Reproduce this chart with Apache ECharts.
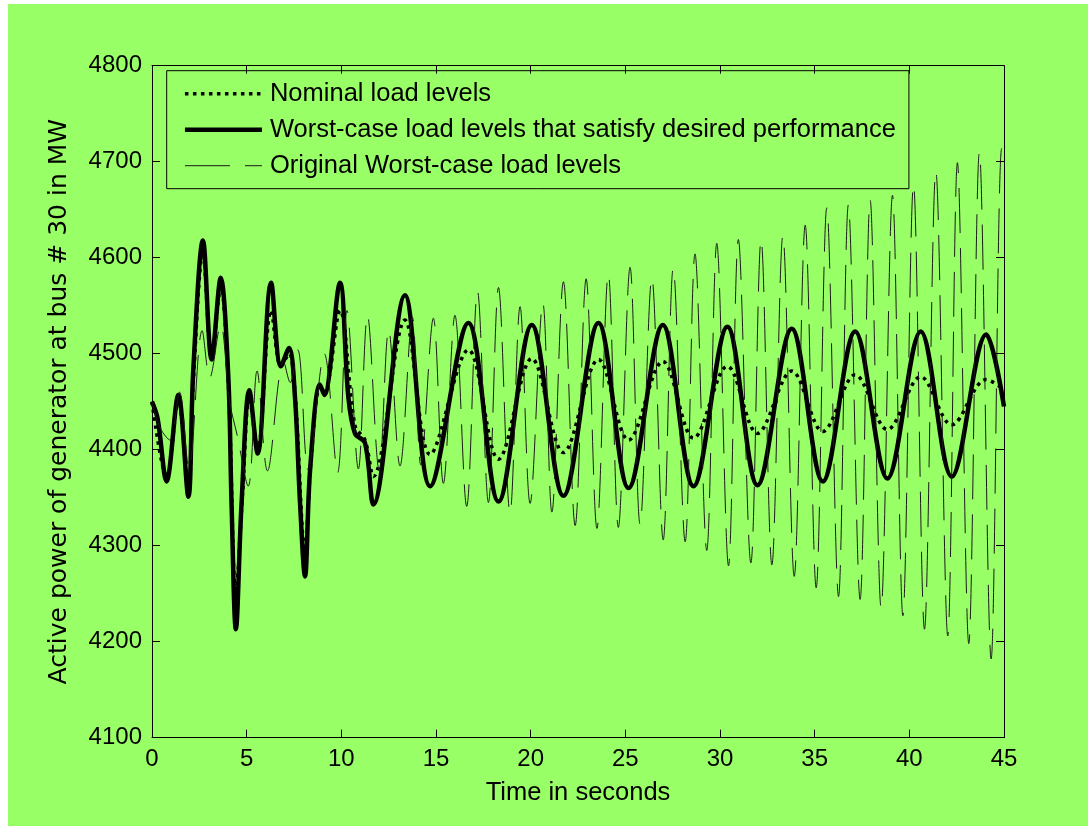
<!DOCTYPE html>
<html><head><meta charset="utf-8">
<script src="https://cdn.jsdelivr.net/npm/echarts@6/dist/echarts.min.js"></script>
<style>
html,body{margin:0;padding:0;background:#fff;width:1088px;height:826px;overflow:hidden}
#c{position:absolute;left:8px;top:4px;width:1080px;height:822px}
</style></head><body><div id="c"></div>
<script>
// ---- data (time in s, active power in MW) ----
const seriesNames = ['Nominal load levels', 'Worst-case load levels that satisfy desired performance', 'Original Worst-case load levels'];

const nominalT = [0, 0.77, 1.39, 1.92, 2.18, 2.69, 3.15, 3.63, 4.03, 4.43, 4.8, 5.14, 5.58, 6.29, 6.81, 7.24, 7.55, 8.08, 8.4, 8.87, 9.1, 9.93, 10.72, 11.25, 11.69, 13.36, 14.69, 16.71, 18.3, 20.06, 21.73, 23.58, 25.17, 26.98, 28.6, 30.39, 31.98, 33.79, 35.43, 37.14, 38.84, 40.6, 42.24, 44.06, 45];
const nominalV = [4450, 4372, 4452, 4358, 4470, 4605, 4497, 4570, 4470, 4250, 4360, 4455, 4400, 4545, 4487, 4500, 4460, 4295, 4390, 4465, 4460, 4545, 4425, 4410, 4372, 4535, 4395, 4504, 4390, 4495, 4397, 4494, 4410, 4492, 4412, 4487, 4417, 4482, 4419, 4478, 4421, 4476, 4426, 4473, 4463];

const worstT = [0, 0.3, 0.77, 1.39, 1.92, 2.18, 2.69, 3.15, 3.63, 4.03, 4.2, 4.43, 4.73, 5.14, 5.58, 6.29, 6.81, 7.24, 7.55, 7.82, 8.08, 8.35, 8.87, 9.1, 9.93, 10.37, 10.72, 11.25, 11.69, 13.36, 14.69, 16.71, 18.3, 20.06, 21.73, 23.58, 25.17, 26.98, 28.6, 30.39, 31.98, 33.79, 35.43, 37.14, 38.84, 40.6, 42.24, 44.06, 45];
const worstV = [4450, 4432, 4367, 4457, 4351, 4483, 4618, 4494, 4579, 4476, 4345, 4213, 4344, 4462, 4396, 4574, 4487, 4506, 4455, 4344, 4268, 4379, 4468, 4457, 4574, 4455, 4417, 4407, 4343, 4561, 4362, 4532, 4346, 4530, 4352, 4532, 4360, 4530, 4362, 4528, 4363, 4526, 4367, 4523, 4370, 4523, 4372, 4520, 4445];

const originalT = [0, 0.45, 0.95, 1.45, 1.95, 2.65, 3.05, 3.62, 4.1, 4.5, 5.08, 5.55, 6.1, 6.95, 7.3, 7.7, 8.25, 9.1, 9.8, 10.3, 10.9, 11.38, 12.0, 12.5, 13.1, 13.75, 14.2, 14.86, 15.39, 16.0, 16.62, 17.19, 17.77, 18.3, 18.91, 19.44, 19.97, 20.64, 21.12, 21.73, 22.35, 22.93, 23.5, 24.1, 24.63, 25.25, 25.78, 26.4, 27.0, 27.53, 28.16, 28.68, 29.3, 29.83, 30.45, 30.97, 31.63, 32.17, 32.74, 33.32, 33.92, 34.5, 35.08, 35.64, 36.26, 36.78, 37.4, 37.93, 38.51, 39.11, 39.66, 40.22, 40.8, 41.4, 42.03, 42.54, 43.14, 43.7, 44.32, 44.88, 45];
const originalV = [4450, 4422, 4410, 4460, 4380, 4524, 4475, 4530, 4450, 4415, 4362, 4482, 4378, 4492, 4470, 4504, 4379, 4500, 4376, 4545, 4380, 4540, 4378, 4525, 4383, 4538, 4384, 4537, 4365, 4540, 4341, 4565, 4345, 4569, 4334, 4549, 4344, 4553, 4335, 4575, 4321, 4578, 4318, 4583, 4319, 4590, 4322, 4579, 4306, 4589, 4304, 4604, 4295, 4615, 4279, 4619, 4282, 4619, 4280, 4623, 4268, 4634, 4256, 4652, 4247, 4655, 4244, 4660, 4235, 4665, 4227, 4676, 4213, 4690, 4206, 4699, 4198, 4710, 4182, 4714, 4705];

const xMin = 0, xMax = 45, xStep = 5;
const yMin = 4100, yMax = 4800, yStep = 100;

// ---- chart ----
const FONT = '"Liberation Sans", Arial, Helvetica, sans-serif';
const pairs = (T, V) => T.map((t, i) => [t, V[i]]);
const chart = echarts.init(document.getElementById('c'), null, {renderer: 'canvas'});

const axisCommon = {
  type: 'value',
  axisLine: {show: true, onZero: false, lineStyle: {color: '#000', width: 1}},
  axisTick: {show: true, inside: true, length: 8, lineStyle: {color: '#000', width: 1}},
  splitLine: {show: false},
  axisLabel: {color: '#000', fontSize: 24, fontFamily: FONT, formatter: v => String(v)}
};

chart.setOption({
  animation: false,
  backgroundColor: '#99FF66',
  grid: {left: 144, top: 61.7, width: 852, height: 672, containLabel: false},
  legend: {
    data: seriesNames,
    orient: 'vertical',
    left: 158.7, top: 66.7,
    itemWidth: 77, itemHeight: 14, itemGap: 0,
    padding: [5, 13, 5, 16],
    borderColor: '#000', borderWidth: 1, borderRadius: 0,
    backgroundColor: 'transparent',
    selectedMode: false,
    itemStyle: {color: 'rgba(0,0,0,0)', borderWidth: 0, opacity: 0},
    lineStyle: {width: 'inherit'},
    textStyle: {color: '#000', fontSize: 25.5, fontFamily: FONT, lineHeight: 36, padding: [0, 0, 0, 3]}
  },
  xAxis: [
    Object.assign({}, axisCommon, {
      min: xMin, max: xMax, interval: xStep, position: 'bottom',
      axisLabel: Object.assign({}, axisCommon.axisLabel, {margin: 10}),
      name: 'Time in seconds', nameLocation: 'middle', nameGap: 42,
      nameTextStyle: {color: '#000', fontSize: 25.5, fontFamily: FONT}
    }),
    Object.assign({}, axisCommon, {
      min: xMin, max: xMax, interval: xStep, position: 'top',
      axisLabel: {show: false}
    })
  ],
  yAxis: [
    Object.assign({}, axisCommon, {
      min: yMin, max: yMax, interval: yStep, position: 'left',
      axisLabel: Object.assign({}, axisCommon.axisLabel, {margin: 10}),
      name: 'Active power of generator at bus # 30 in MW', nameLocation: 'middle', nameGap: 80, nameRotate: 90,
      nameTextStyle: {color: '#000', fontSize: 25, fontFamily: '"DejaVu Sans", "Liberation Sans", sans-serif'}
    }),
    Object.assign({}, axisCommon, {
      min: yMin, max: yMax, interval: yStep, position: 'right',
      axisLabel: {show: false}
    })
  ],
  series: [
    {
      name: seriesNames[0], type: 'line', data: pairs(nominalT, nominalV),
      symbol: 'none', smooth: 0.35, clip: true, z: 3,
      itemStyle: {color: '#000'},
      lineStyle: {color: '#000', width: 3.5, type: [3.5, 4.5], cap: 'butt'}
    },
    {
      name: seriesNames[1], type: 'line', data: pairs(worstT, worstV),
      symbol: 'none', smooth: 0.35, clip: true, z: 2,
      itemStyle: {color: '#000'},
      lineStyle: {color: '#000', width: 4.5, type: 'solid'}
    },
    {
      name: seriesNames[2], type: 'line', data: pairs(originalT, originalV),
      symbol: 'none', smooth: 0.35, clip: true, z: 4,
      itemStyle: {color: '#1a1a1a'},
      lineStyle: {color: '#1a1a1a', width: 1, type: [45, 15]}
    }
  ]
});
</script></body></html>
